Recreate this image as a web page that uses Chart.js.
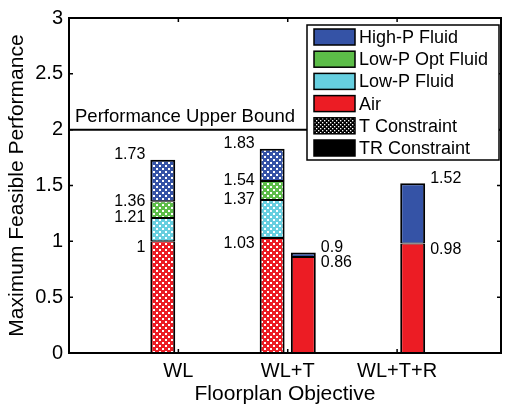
<!DOCTYPE html>
<html>
<head>
<meta charset="utf-8">
<script src="https://cdn.jsdelivr.net/npm/chart.js@4/dist/chart.umd.min.js"></script>
<style>
  body { margin: 0; background: #fff; }
  canvas { display: block; }
</style>
</head>
<body>
<canvas id="perfChart" width="505" height="407"></canvas>
<script>
const categories = ['WL', 'WL+T', 'WL+T+R'];
const categoryX = [1, 2, 3];

// T constraint stacks (hatched), cumulative tops
const tX = [1, 2];
const tAir = [1.00, 1.03];
const tLowP = [1.21, 1.37];
const tLowPOpt = [1.36, 1.54];
const tHighP = [1.73, 1.83];

// TR constraint stacks (solid), cumulative tops
const trX = [2, 3];
const trAir = [0.86, 0.98];
const trHighP = [0.90, 1.52];

const upperBound = 2;
const boundLabel = 'Performance Upper Bound';

const legendLabels = ['High-P Fluid', 'Low-P Opt Fluid', 'Low-P Fluid', 'Air', 'T Constraint', 'TR Constraint'];

const BLUE = '#3553a6';
const GREEN = '#5cbd48';
const CYAN = '#66cfe0';
const RED = '#ec1c24';
const FONT = "'Liberation Sans', Arial, sans-serif";

function hatch(color, size) {
    const c = document.createElement('canvas');
    c.width = size;
    c.height = size;
    const g = c.getContext('2d');
    g.fillStyle = color;
    g.fillRect(0, 0, size, size);
    g.fillStyle = '#fff';
    const d = size / 3;
    g.fillRect(0, 0, d, d);
    g.fillRect(size / 2, size / 2, d, d);
    return g.createPattern(c, 'repeat');
}

function segments(xs, bottoms, tops) {
    return xs.map((x, i) => ({ x: x, y: [bottoms ? bottoms[i] : 0, tops[i]] }));
}

function bar(label, stack, data, fill, isTop) {
    return {
        label: label,
        stack: stack,
        data: data,
        backgroundColor: fill,
        borderColor: '#000',
        borderWidth: { left: 2, right: 2, top: isTop ? 2 : 1, bottom: 1 },
        borderSkipped: false,
        categoryPercentage: 0.57,
        barPercentage: 0.8
    };
}

const stacks = [
    { xs: tX, levels: [tAir, tLowP, tLowPOpt, tHighP], side: 'left', first: 0 },
    { xs: trX, levels: [trAir, trHighP], side: 'right', first: 4 }
];

// inward ticks and box, like the original plot frame
const framePlugin = {
    id: 'frame',
    afterDraw(chart) {
        const { ctx, chartArea: a, scales: { x, y } } = chart;
        ctx.save();
        ctx.strokeStyle = '#000';
        ctx.lineWidth = 1.5;
        const t = 4;
        ctx.beginPath();
        y.ticks.forEach(tk => {
            const py = y.getPixelForValue(tk.value);
            ctx.moveTo(a.left, py); ctx.lineTo(a.left + t, py);
            ctx.moveTo(a.right, py); ctx.lineTo(a.right - t, py);
        });
        categoryX.forEach(v => {
            const px = x.getPixelForValue(v);
            ctx.moveTo(px, a.bottom); ctx.lineTo(px, a.bottom - t);
            ctx.moveTo(px, a.top); ctx.lineTo(px, a.top + t);
        });
        ctx.stroke();
        ctx.lineWidth = 2;
        ctx.strokeRect(a.left, a.top, a.right - a.left, a.bottom - a.top);
        ctx.restore();
    }
};

const boundPlugin = {
    id: 'bound',
    beforeDatasetsDraw(chart) {
        const { ctx, chartArea: a, scales: { y } } = chart;
        const py = y.getPixelForValue(upperBound);
        ctx.save();
        ctx.strokeStyle = '#000';
        ctx.lineWidth = 2;
        ctx.beginPath();
        ctx.moveTo(a.left, py);
        ctx.lineTo(a.right, py);
        ctx.stroke();
        ctx.fillStyle = '#000';
        ctx.font = '18.5px ' + FONT;
        ctx.textBaseline = 'alphabetic';
        ctx.textAlign = 'left';
        ctx.fillText(boundLabel, a.left + 6, py - 8);
        ctx.restore();
    }
};

const valueLabelPlugin = {
    id: 'valueLabels',
    afterDatasetsDraw(chart) {
        const { ctx, scales: { y } } = chart;
        ctx.save();
        ctx.fillStyle = '#000';
        ctx.font = '16px ' + FONT;
        ctx.textBaseline = 'middle';
        stacks.forEach(s => {
            const meta = chart.getDatasetMeta(s.first);
            s.xs.forEach((_, i) => {
                const el = meta.data[i];
                const left = el.x - el.width / 2;
                const right = el.x + el.width / 2;
                s.levels.forEach((lv, k) => {
                    let py = y.getPixelForValue(lv[i]);
                    if (k === 0) py += 6;
                    else if (k === s.levels.length - 1) py -= 5;
                    if (s.side === 'left') {
                        ctx.textAlign = 'right';
                        ctx.fillText(String(lv[i]), left - 5, py);
                    } else {
                        ctx.textAlign = 'left';
                        ctx.fillText(String(lv[i]), right + 5, py);
                    }
                });
            });
        });
        ctx.restore();
    }
};

const legendPlugin = {
    id: 'boxLegend',
    afterDraw(chart) {
        const { ctx, chartArea: a } = chart;
        const fills = [BLUE, GREEN, CYAN, RED, hatch('#000', 4), '#000'];
        const w = 192, h = 135;
        const bx = a.right - 2 - w, by = a.top + 7;
        ctx.save();
        ctx.fillStyle = '#fff';
        ctx.fillRect(bx, by, w, h);
        ctx.strokeStyle = '#000';
        ctx.lineWidth = 1.5;
        ctx.strokeRect(bx, by, w, h);
        ctx.font = '18px ' + FONT;
        ctx.textBaseline = 'middle';
        ctx.textAlign = 'left';
        legendLabels.forEach((lab, i) => {
            const cy = by + 12 + i * 22.2;
            ctx.fillStyle = fills[i];
            ctx.fillRect(bx + 7, cy - 8, 41, 16);
            ctx.strokeStyle = '#000';
            ctx.lineWidth = 1.5;
            ctx.strokeRect(bx + 7, cy - 8, 41, 16);
            ctx.fillStyle = '#000';
            ctx.fillText(lab, bx + 52, cy + 1);
        });
        ctx.restore();
    }
};

const perfChart = new Chart(document.getElementById('perfChart'), {
    type: 'bar',
    data: {
        datasets: [
            bar('Air (T)', 'T', segments(tX, null, tAir), hatch(RED, 6), false),
            bar('Low-P Fluid (T)', 'T', segments(tX, tAir, tLowP), hatch(CYAN, 6), false),
            bar('Low-P Opt Fluid (T)', 'T', segments(tX, tLowP, tLowPOpt), hatch(GREEN, 6), false),
            bar('High-P Fluid (T)', 'T', segments(tX, tLowPOpt, tHighP), hatch(BLUE, 6), true),
            bar('Air (TR)', 'TR', segments(trX, null, trAir), RED, false),
            bar('High-P Fluid (TR)', 'TR', segments(trX, trAir, trHighP), BLUE, true)
        ]
    },
    options: {
        responsive: false,
        animation: false,
        layout: { padding: { top: 15, right: 4, left: 0, bottom: 0 } },
        plugins: {
            legend: { display: false },
            tooltip: { enabled: false }
        },
        scales: {
            x: {
                type: 'linear',
                min: 0,
                max: 3.95,
                offset: false,
                grid: { display: false, drawTicks: false },
                border: { display: false },
                afterBuildTicks: (scale) => { scale.ticks = categoryX.map(v => ({ value: v })); },
                afterFit: (scale) => { scale.height = 54; },
                ticks: {
                    autoSkip: false,
                    maxRotation: 0,
                    padding: 6,
                    color: '#000',
                    font: { family: FONT, size: 20 },
                    callback: (v) => categories[categoryX.indexOf(v)] || ''
                },
                title: {
                    display: true,
                    text: 'Floorplan Objective',
                    color: '#000',
                    font: { family: FONT, size: 21 },
                    padding: 0
                }
            },
            y: {
                min: 0,
                max: 3,
                stacked: false,
                grid: { display: false, drawTicks: false },
                border: { display: false },
                afterFit: (scale) => { scale.width = 69; },
                ticks: {
                    stepSize: 0.5,
                    padding: 6,
                    color: '#000',
                    font: { family: FONT, size: 20 },
                    callback: (v) => String(v)
                },
                title: {
                    display: true,
                    text: 'Maximum Feasible Performance',
                    color: '#000',
                    font: { family: FONT, size: 21 },
                    padding: { top: 5, bottom: 0 }
                }
            }
        }
    },
    plugins: [boundPlugin, valueLabelPlugin, framePlugin, legendPlugin]
});
</script>
</body>
</html>
